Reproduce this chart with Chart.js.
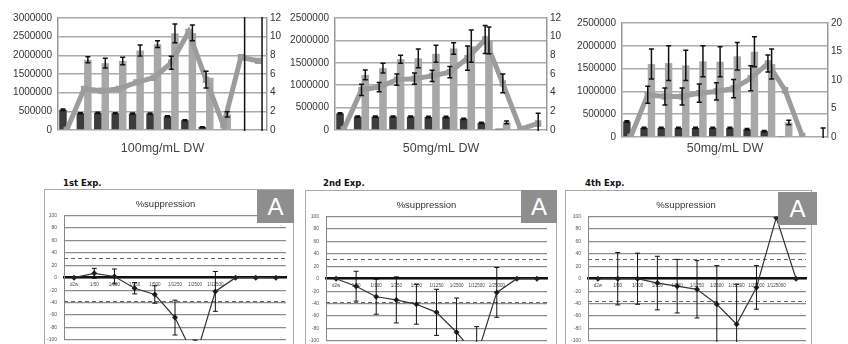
<!DOCTYPE html>
<html lang="en">
<head>
  <meta charset="UTF-8" />
  <title>fraction activity and %suppression</title>
  <script src="https://cdn.jsdelivr.net/npm/chart.js"></script>
  <style>
    body{margin:0;width:848px;height:344px;overflow:hidden;background:#fff;position:relative;font-family:"Liberation Sans",Arial,sans-serif;}
    .pane{position:absolute;}
    .box{position:absolute;border:1px solid #aaa;box-sizing:border-box;}
    .box canvas{position:absolute;left:0;top:0;}
    .badge{position:absolute;background:#8e8e8e;color:#fff;font-size:24px;line-height:33px;text-align:center;height:33px;}
    .exp{position:absolute;font:bold 8.5px "DejaVu Sans",sans-serif;color:#111;}
  </style>
</head>
<body>
  <!-- top row: bar + line panels -->
  <canvas id="top1" class="pane" width="282" height="160" style="left:0;top:0"></canvas>
  <canvas id="top2" class="pane" width="283" height="160" style="left:282px;top:0"></canvas>
  <canvas id="top3" class="pane" width="283" height="160" style="left:565px;top:0"></canvas>

  <!-- bottom row: %suppression panels -->
  <div class="exp" style="left:63px;top:178px">1st Exp.</div>
  <div class="exp" style="left:323px;top:178px">2nd Exp.</div>
  <div class="exp" style="left:585px;top:178px">4th Exp.</div>

  <div class="box" style="left:44px;top:189px;width:250px;height:160px"><canvas id="bot1" width="248" height="160"></canvas></div>
  <div class="box" style="left:305px;top:190px;width:252px;height:160px"><canvas id="bot2" width="250" height="160"></canvas></div>
  <div class="box" style="left:565px;top:190px;width:247px;height:160px"><canvas id="bot3" width="245" height="160"></canvas></div>

  <div class="badge" style="left:257px;top:190px;width:37px">A</div>
  <div class="badge" style="left:521px;top:190px;width:36px">A</div>
  <div class="badge" style="left:778px;top:192px;width:39px">A</div>

<script>
// ── data ─────────────────────────────────────────────────────────────────
const fractions = ['1','2','3','4','5','6','7','8','9','10','11','12'];

// panel 1 : 100mg/mL DW
const p1Dark    = [540000, 450000, 460000, 450000, 440000, 440000, 370000, 260000, 80000, 0, 0, 0];
const p1DarkErr = [20000, 15000, 15000, 15000, 15000, 15000, 15000, 15000, 10000, 0, 0, 0];
const p1Gray    = [0, 1880000, 1790000, 1850000, 2130000, 2300000, 2590000, 2600000, 1400000, 420000, 0, 0];
const p1GrayErr = [0, 80000, 130000, 100000, 150000, 90000, 250000, 210000, 0, 70000, 4000000, 4000000];
const p1Line    = [0, 4.4, 4.2, 4.4, 5.1, 5.6, 7.2, 10.5, 5.4, 0.5, 7.8, 7.4];
const p1LineErr = [0, 0, 0, 0, 0, 0, 0.7, 0, 0.9, 0, 0, 0];

// panel 2 : 50mg/mL DW
const p2Dark    = [370000, 300000, 300000, 300000, 300000, 290000, 290000, 250000, 160000, 30000, 0, 20000];
const p2DarkErr = [15000, 15000, 15000, 15000, 15000, 15000, 15000, 15000, 15000, 0, 0, 0];
const p2Gray    = [0, 1230000, 1380000, 1580000, 1600000, 1700000, 1820000, 1870000, 2000000, 170000, 0, 0];
const p2GrayErr = [0, 110000, 110000, 90000, 210000, 190000, 130000, 360000, 300000, 30000, 0, 0];
const p2Line    = [0.1, 4.3, 4.6, 5.4, 5.5, 5.8, 6.2, 7.7, 9.7, 5.0, 0.1, 0.7];
const p2LineErr = [0, 0.6, 0.5, 0.6, 0.6, 0.6, 0.6, 1.3, 1.5, 1.0, 0, 1.1];

// panel 3 : 50mg/mL DW
const p3Dark    = [340000, 200000, 200000, 200000, 200000, 200000, 200000, 170000, 130000, 20000, 0, 0];
const p3DarkErr = [15000, 15000, 15000, 15000, 15000, 15000, 15000, 15000, 15000, 0, 0, 0];
const p3Gray    = [0, 1600000, 1620000, 1570000, 1660000, 1650000, 1770000, 1870000, 1600000, 320000, 0, 0];
const p3GrayErr = [0, 330000, 380000, 330000, 340000, 330000, 300000, 330000, 330000, 50000, 0, 200000];
const p3Line    = [0, 7.4, 7.1, 7.1, 7.7, 8.0, 8.5, 10.3, 12.9, 8.2, 0.2, null];
const p3LineErr = [0, 1.5, 1.5, 1.5, 1.6, 1.5, 1.6, 2.2, 1.5, 0, 0, 0];

// %suppression, dilution series
const exp1Labels = ['d2w','1/50','1/100','1/250','1/500','1/1250','1/2500','1/12500','','',''];
const exp2Labels = ['d2w','1/50','1/100','1/250','1/500','1/1250','1/2500','1/12500','1/25000','',''];
const exp4Labels = ['d2w','1/50','1/100','1/250','1/500','1/1250','1/2500','1/12500','1/25000','1/125000',''];
const exp1Supp = [0, 7, 2, -17, -27, -64, -130, -22, 0, 0, 0];
const exp1Err  = [0, 8, 12, 9, 14, 28, 30, 32, 0, 0, 0];
const exp2Supp = [0, -12, -29, -34, -41, -54, -86, -125, -22, 0, 0];
const exp2Err  = [0, 24, 28, 37, 32, 37, 55, 48, 40, 0, 0];
const exp4Supp = [0, 0, 0, -7, -12, -17, -41, -73, -14, 98, 0];
const exp4Err  = [0, 42, 41, 43, 43, 46, 62, 64, 35, 0, 0];
const exp1Cut  = [31, -37];
const exp2Cut  = [31, -37];
const exp4Cut  = [32, -35];

// ── plugins ──────────────────────────────────────────────────────────────
const errorBars = {
  id: 'errorBars',
  afterDatasetsDraw(chart){
    const ctx = chart.ctx, a = chart.chartArea;
    ctx.save();
    ctx.beginPath();
    ctx.rect(a.left, a.top - 1, a.right - a.left, a.bottom - a.top + 2);
    ctx.clip();
    chart.data.datasets.forEach((ds, i) => {
      if(!ds.errors) return;
      const meta = chart.getDatasetMeta(i);
      const sc = chart.scales[meta.yAxisID];
      ctx.strokeStyle = '#111';
      ctx.lineWidth = ds.errWidth || 1.5;
      const w = ds.capHalf || 2.5;
      meta.data.forEach((el, j) => {
        const v = ds.data[j], e = ds.errors[j];
        if(v == null || !e) return;
        const y1 = sc.getPixelForValue(v + e), y2 = sc.getPixelForValue(v - e);
        ctx.beginPath();
        ctx.moveTo(el.x, y1); ctx.lineTo(el.x, y2);
        ctx.moveTo(el.x - w, y1); ctx.lineTo(el.x + w, y1);
        ctx.moveTo(el.x - w, y2); ctx.lineTo(el.x + w, y2);
        ctx.stroke();
      });
    });
    ctx.restore();
  }
};

const cutLines = {
  id: 'cutLines',
  beforeDatasetsDraw(chart, args, opts){
    const ctx = chart.ctx, a = chart.chartArea, y = chart.scales.y;
    ctx.save();
    ctx.strokeStyle = '#666';
    ctx.lineWidth = 1;
    ctx.setLineDash([4, 3]);
    (opts.values || []).forEach(v => {
      const py = Math.round(y.getPixelForValue(v)) + 0.5;
      ctx.beginPath(); ctx.moveTo(a.left, py); ctx.lineTo(a.right, py); ctx.stroke();
    });
    ctx.restore();
  }
};

// ── top row ──────────────────────────────────────────────────────────────
function topChart(id, cfg){
  return new Chart(document.getElementById(id), {
    type: 'bar',
    data: {
      labels: fractions,
      datasets: [
        {type:'line', data:cfg.line, errors:cfg.lineErr, yAxisID:'y2', order:0,
         borderColor:'#9c9c9c', backgroundColor:'#9c9c9c', borderWidth:5, tension:0,
         pointStyle:'rect', pointRadius:4.5, pointBorderWidth:0},
        {data:cfg.dark, errors:cfg.darkErr, yAxisID:'y', order:1, backgroundColor:'#3c3c3c'},
        {data:cfg.gray, errors:cfg.grayErr, yAxisID:'y', order:1, backgroundColor:'#a8a8a8'}
      ]
    },
    options: {
      responsive:false, animation:false, devicePixelRatio:1,
      layout:{padding:{top:cfg.top, left:0, right:0, bottom:0}},
      datasets:{bar:{categoryPercentage:0.86, barPercentage:1}},
      plugins:{legend:{display:false}, tooltip:{enabled:false}},
      scales:{
        x:{grid:{display:false}, ticks:{display:false}, border:{display:false},
           title:{display:true, text:cfg.title, color:'#444', font:{size:12.5, family:'"Liberation Sans"'}, padding:{top:4,bottom:4}},
           afterFit(s){ s.height = cfg.xh; }},
        y:{position:'left', min:0, max:cfg.max, 
           ticks:{stepSize:500000, color:'#333', padding:6, font:{size:10, family:'"Liberation Sans"'}, callback:v => String(v)},
           grid:{color:'#aaaaaa', lineWidth:1.5, drawTicks:false}, border:{color:'#999', width:1.5},
           afterFit(s){ s.width = cfg.lw; }},
        y2:{position:'right', min:0, max:cfg.rmax,
           ticks:{stepSize:cfg.rstep, color:'#333', padding:3, font:{size:10, family:'"Liberation Sans"'}},
           grid:{display:false, drawTicks:false}, border:{color:'#999', width:1.5},
           afterFit(s){ s.width = cfg.rw; }}
      }
    },
    plugins:[errorBars]
  });
}

topChart('top1', {title:'100mg/mL DW', dark:p1Dark, darkErr:p1DarkErr, gray:p1Gray, grayErr:p1GrayErr,
  line:p1Line, lineErr:p1LineErr, max:3000000, rmax:12, rstep:2, top:18, xh:30, lw:58, rw:15});
topChart('top2', {title:'50mg/mL DW', dark:p2Dark, darkErr:p2DarkErr, gray:p2Gray, grayErr:p2GrayErr,
  line:p2Line, lineErr:p2LineErr, max:2500000, rmax:12, rstep:2, top:18, xh:30, lw:53, rw:18});
topChart('top3', {title:'50mg/mL DW', dark:p3Dark, darkErr:p3DarkErr, gray:p3Gray, grayErr:p3GrayErr,
  line:p3Line, lineErr:p3LineErr, max:2500000, rmax:20, rstep:5, top:23, xh:23, lw:57, rw:20});

// ── bottom row ───────────────────────────────────────────────────────────
function suppChart(id, labels, values, errs, cuts, lw, rp){
  return new Chart(document.getElementById(id), {
    type: 'line',
    data: {
      labels: labels,
      datasets: [{data:values, errors:errs, errWidth:1, capHalf:2.5,
        borderColor:'#333', backgroundColor:'#222', borderWidth:1.2, tension:0,
        pointStyle:'rectRot', pointRadius:3, pointBorderWidth:0}]
    },
    options: {
      responsive:false, animation:false, devicePixelRatio:1,
      layout:{padding:{top:0, left:0, right:rp, bottom:9.5}},
      plugins:{
        legend:{display:false}, tooltip:{enabled:false},
        title:{display:true, text:'%suppression', color:'#333', font:{size:9.5, weight:'normal', family:'"Liberation Sans"'}, padding:{top:9, bottom:5}},
        cutLines:{values:cuts}
      },
      scales:{
        x:{position:{y:0}, offset:true, grid:{display:false, drawTicks:false},
           border:{color:'#111', width:2.5},
           ticks:{color:'#444', padding:4, autoSkip:false, maxRotation:0, font:{size:4.5, family:'"Liberation Sans"'}}},
        y:{min:-100, max:100,
           ticks:{stepSize:20, color:'#555', padding:7, font:{size:5, family:'"Liberation Sans"'}},
           grid:{color:'#8c8c8c', lineWidth:1.3, drawTicks:false}, border:{color:'#888'},
           afterFit(s){ s.width = lw; }}
      }
    },
    plugins:[cutLines, errorBars]
  });
}

suppChart('bot1', exp1Labels, exp1Supp, exp1Err, exp1Cut, 19, 7);
suppChart('bot2', exp2Labels, exp2Supp, exp2Err, exp2Cut, 20, 9);
suppChart('bot3', exp4Labels, exp4Supp, exp4Err, exp4Cut, 22, 5);
</script>
</body>
</html>
